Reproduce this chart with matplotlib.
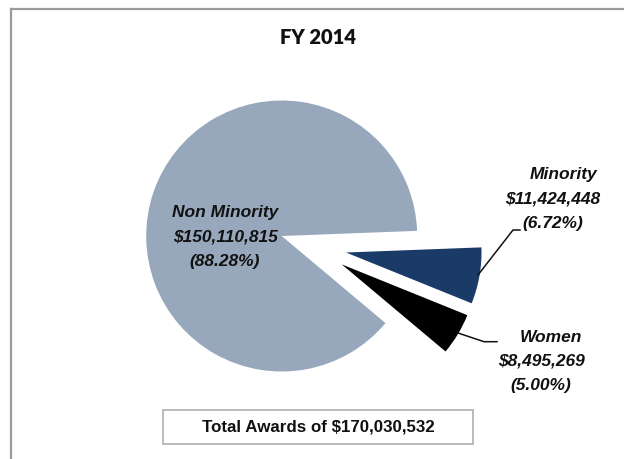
import math
import matplotlib
matplotlib.use("Agg")
import matplotlib.pyplot as plt
from matplotlib.patches import Rectangle
from matplotlib.lines import Line2D

# Award data
categories = ["Non Minority", "Minority", "Women"]
amounts = [150110815, 11424448, 8495269]
percents = [88.28, 6.72, 5.00]
total_amount = 170030532
title = "FY 2014"

colors = ["#97A8BD", "#1A3A68", "#000000"]
# pull-out distance (fraction of radius) and direction (degrees)
explode_frac = [0.0, 0.49, 0.49]
explode_dir = [0.0, -14.4, -25.3]

W, H = 624, 459
fig = plt.figure(figsize=(W / 100, H / 100), dpi=100)
ax = fig.add_axes([0, 0, 1, 1])
ax.set_xlim(0, W)
ax.set_ylim(0, H)
ax.set_aspect("equal")
ax.axis("off")

def py(y):
    # convert top-down pixel position to data y
    return H - y

# outer frame (left and top edges)
ax.add_line(Line2D([10.7, 10.7], [py(459), py(9)], color="#9A9A9A", lw=1.6))
ax.add_line(Line2D([10.7, 624], [py(9), py(9)], color="#9A9A9A", lw=1.6))

cx, cy, r = 281.7, py(236), 135.5
wedges, _ = ax.pie(amounts, colors=colors, startangle=320,
                   counterclock=False, center=(cx, cy), radius=r,
                   wedgeprops=dict(linewidth=0))
# pull the small slices out of the pie
for w, f, a in zip(wedges, explode_frac, explode_dir):
    d = f * r
    w.set_center((cx + d * math.cos(math.radians(a)),
                   cy + d * math.sin(math.radians(a))))
ax.set_xlim(0, W)
ax.set_ylim(0, H)

label_font = ["Liberation Sans Narrow", "Liberation Sans", "DejaVu Sans"]

def label_lines(i):
    return [categories[i], f"${amounts[i]:,}", f"({percents[i]:.2f}%)"]

# data labels: (x of name line, x of value lines, y of first line)
label_pos = [(225, 225, 213), (564, 553, 175), (551, 541, 337)]
line_gap = 24.3
for i, (xn, xv, y0) in enumerate(label_pos):
    for j, txt in enumerate(label_lines(i)):
        ax.text(xn if j == 0 else xv, py(y0 + j * line_gap), txt,
                ha="center", va="center", fontsize=12.5,
                fontweight="bold", fontstyle="italic",
                family=label_font, color="#111111")

# leader lines
ax.add_line(Line2D([478, 513, 520], [py(275), py(230), py(230)],
                   color="#111111", lw=1.1))
ax.add_line(Line2D([458, 484, 497], [py(333), py(341.7), py(341.7)],
                   color="#111111", lw=1.1))

# title
ax.text(317.5, py(38), title, ha="center", va="center", fontsize=14.5,
        fontweight="heavy", family=["Lato", "DejaVu Sans"], color="#111111")

# total box
ax.add_patch(Rectangle((162.5, py(444)), 473 - 162.5, 444 - 410,
                       facecolor="white", edgecolor="#BBBBBB", lw=1.4))
ax.text(318.5, py(427), f"Total Awards of ${total_amount:,}",
        ha="center", va="center", fontsize=12.2, fontweight="bold",
        family=label_font, color="#111111")

fig.savefig("out.png", dpi=100)
